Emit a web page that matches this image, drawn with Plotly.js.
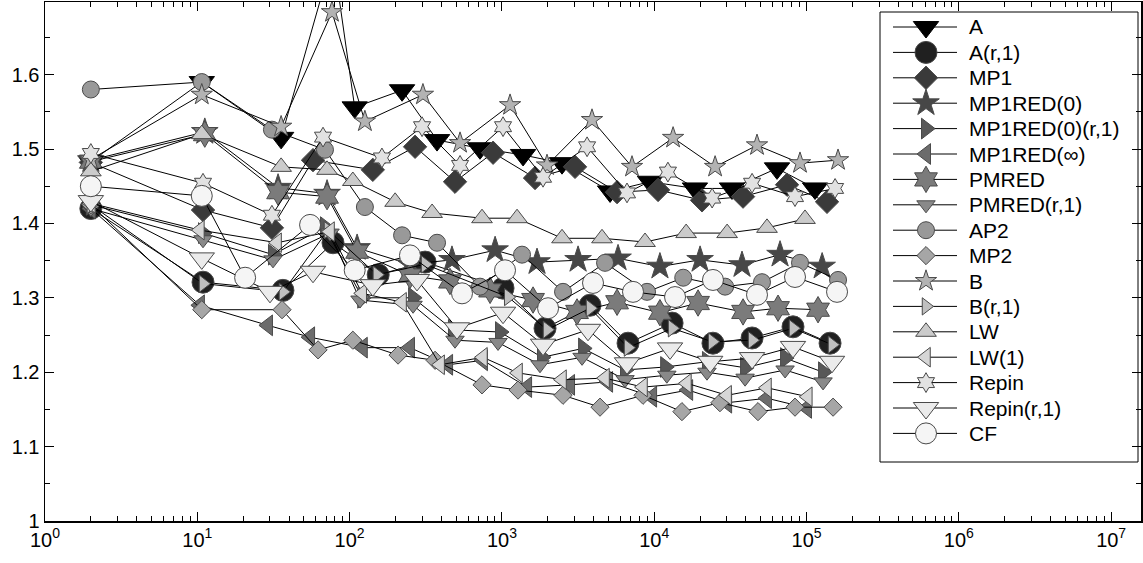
<!DOCTYPE html>
<html>
<head>
<meta charset="utf-8">
<script src="https://cdn.plot.ly/plotly-3.0.1.min.js"></script>
<style>html,body{margin:0;padding:0;background:#fff}#chart{width:1143px;height:563px}</style>
</head>
<body>
<div id="chart"></div>
<script>
// ---- data ----
const seriesNames = ['A','A(r,1)','MP1','MP1RED(0)','MP1RED(0)(r,1)','MP1RED(\u221E)','PMRED','PMRED(r,1)','AP2','MP2','B','B(r,1)','LW','LW(1)','Repin','Repin(r,1)','CF'];

const xA   = [2, 10.7, 35.5, 77.8, 108, 221, 375, 718, 1377, 2481, 5129, 9380, 18500, 32400, 64000, 113700];
const yA   = [1.483, 1.59, 1.515, 1.76, 1.556, 1.579, 1.512, 1.501, 1.492, 1.481, 1.443, 1.456, 1.447, 1.447, 1.474, 1.447];

const xAr1 = [2, 10.9, 36.5, 77.8, 154, 313, 1017, 1919, 3788, 6730, 13100, 24300, 43900, 81500, 142700];
const yAr1 = [1.42, 1.321, 1.31, 1.374, 1.331, 1.348, 1.313, 1.259, 1.29, 1.239, 1.266, 1.239, 1.246, 1.261, 1.239];

const xMP1 = [2, 10.9, 30.9, 57.5, 142, 269, 492, 875, 1650, 3020, 5702, 10600, 20600, 38300, 74500, 136300];
const yMP1 = [1.482, 1.418, 1.394, 1.485, 1.472, 1.503, 1.456, 1.495, 1.461, 1.476, 1.442, 1.445, 1.431, 1.436, 1.452, 1.429];

const xMP1RED0 = [2, 11.2, 33.9, 71.1, 112, 249, 470, 902, 1700, 3162, 5786, 10900, 20000, 37700, 67000, 126600];
const yMP1RED0 = [1.485, 1.523, 1.448, 1.44, 1.367, 1.345, 1.351, 1.364, 1.348, 1.351, 1.353, 1.342, 1.351, 1.344, 1.358, 1.342];

const xMP1RED0r1 = [2, 10.9, 31.4, 68.9, 121, 261, 477, 972, 1833, 3412, 6430, 11800, 22200, 39500, 72300, 128400];
const yMP1RED0r1 = [1.425, 1.387, 1.358, 1.395, 1.3, 1.3, 1.257, 1.254, 1.22, 1.232, 1.203, 1.207, 1.214, 1.206, 1.219, 1.2];

const xMP1REDinf = [2, 10.4, 29.1, 55.0, 122, 249, 443, 751, 1463, 2800, 4977, 9680, 16700, 30100, 55000, 100700];
const yMP1REDinf = [1.42, 1.29, 1.263, 1.247, 1.233, 1.233, 1.21, 1.216, 1.18, 1.183, 1.187, 1.167, 1.176, 1.159, 1.165, 1.152];

const xPMRED = [2, 11.2, 33.9, 71.1, 112, 249, 456, 836, 1601, 3113, 5702, 10900, 19400, 38300, 65000, 119000];
const yPMRED = [1.483, 1.52, 1.442, 1.436, 1.362, 1.33, 1.322, 1.31, 1.297, 1.281, 1.294, 1.28, 1.293, 1.281, 1.286, 1.284];

const xPMREDr1 = [2, 10.9, 31.4, 74.4, 117, 261, 492, 943, 1778, 3358, 6430, 12100, 22200, 39500, 72300, 128400];
const yPMREDr1 = [1.42, 1.378, 1.351, 1.387, 1.297, 1.29, 1.243, 1.24, 1.21, 1.22, 1.19, 1.196, 1.2, 1.192, 1.203, 1.187];

const xAP2 = [2, 10.7, 30.9, 68.9, 126, 221, 375, 718, 1355, 2519, 4754, 8970, 15500, 29200, 51000, 90600, 161000];
const yAP2 = [1.58, 1.59, 1.526, 1.499, 1.422, 1.384, 1.374, 1.315, 1.358, 1.308, 1.347, 1.308, 1.327, 1.315, 1.321, 1.347, 1.324];

const xMP2 = [2, 10.7, 36.0, 62.1, 105, 208, 364, 740, 1276, 2519, 4406, 8443, 15200, 27000, 48000, 84000, 149400];
const yMP2 = [1.425, 1.284, 1.284, 1.23, 1.243, 1.223, 1.216, 1.183, 1.176, 1.169, 1.153, 1.169, 1.147, 1.159, 1.147, 1.153, 1.153];

const xB = [2, 10.7, 35.5, 76.6, 126, 303, 531, 1131, 1977, 3904, 7147, 13300, 25100, 47300, 90600, 161000];
const yB = [1.486, 1.573, 1.53, 1.684, 1.537, 1.573, 1.508, 1.559, 1.478, 1.539, 1.476, 1.515, 1.476, 1.505, 1.481, 1.485];

const xBr1 = [2, 10.9, 36.5, 72.1, 151, 313, 1100, 1977, 3788, 6730, 13100, 24000, 43900, 81500, 147000];
const yBr1 = [1.425, 1.319, 1.308, 1.391, 1.331, 1.345, 1.301, 1.257, 1.286, 1.233, 1.259, 1.241, 1.243, 1.259, 1.237];

const xLW = [2, 10.7, 35.5, 71.1, 105, 199, 348, 740, 1257, 2481, 4541, 8701, 16200, 30100, 55000, 97700];
const yLW = [1.47, 1.52, 1.476, 1.472, 1.457, 1.429, 1.414, 1.407, 1.407, 1.38, 1.38, 1.375, 1.387, 1.387, 1.394, 1.406];

const xLW1 = [2, 10.4, 33.4, 74.4, 121, 221, 393, 751, 1276, 2481, 4754, 8443, 16400, 30100, 55000, 102000];
const yLW1 = [1.427, 1.391, 1.374, 1.389, 1.306, 1.294, 1.21, 1.22, 1.199, 1.19, 1.192, 1.18, 1.185, 1.169, 1.179, 1.167];

const xRepin = [2, 10.9, 30.9, 66.9, 163, 299, 531, 1017, 1862, 3624, 6626, 12300, 24000, 43900, 84000, 154000];
const yRepin = [1.494, 1.454, 1.411, 1.516, 1.488, 1.53, 1.478, 1.53, 1.462, 1.503, 1.441, 1.469, 1.434, 1.454, 1.436, 1.447];

const xRepinr1 = [2, 10.7, 30.0, 57.5, 142, 277, 507, 1017, 1862, 3675, 6626, 12700, 23300, 43900, 81500, 147000];
const yRepinr1 = [1.43, 1.353, 1.308, 1.335, 1.317, 1.324, 1.259, 1.28, 1.237, 1.257, 1.212, 1.232, 1.214, 1.219, 1.234, 1.214];

const xCF = [2, 10.7, 20.6, 55.0, 108, 249, 547, 1048, 2009, 3963, 7255, 13700, 24300, 47300, 84000, 158600];
const yCF = [1.45, 1.437, 1.327, 1.398, 1.337, 1.357, 1.306, 1.337, 1.286, 1.32, 1.308, 1.301, 1.324, 1.304, 1.328, 1.308];

const xTickVals = [1, 10, 100, 1000, 1e4, 1e5, 1e6, 1e7];
const xTickText = ['10<sup>0</sup>','10<sup>1</sup>','10<sup>2</sup>','10<sup>3</sup>','10<sup>4</sup>','10<sup>5</sup>','10<sup>6</sup>','10<sup>7</sup>'];
const yTickVals = [1, 1.1, 1.2, 1.3, 1.4, 1.5, 1.6];
const yTickText = ['1', '1.1', '1.2', '1.3', '1.4', '1.5', '1.6'];

// ---- styling ----
const xs = [xA, xAr1, xMP1, xMP1RED0, xMP1RED0r1, xMP1REDinf, xPMRED, xPMREDr1, xAP2, xMP2, xB, xBr1, xLW, xLW1, xRepin, xRepinr1, xCF];
const ys = [yA, yAr1, yMP1, yMP1RED0, yMP1RED0r1, yMP1REDinf, yPMRED, yPMREDr1, yAP2, yMP2, yB, yBr1, yLW, yLW1, yRepin, yRepinr1, yCF];
const symbols = ['triangle-down','circle','diamond','star','triangle-right','triangle-left','hexagram','triangle-down','circle','diamond','star','triangle-right','triangle-up','triangle-left','hexagram','triangle-down','circle'];
const sizes   = [22, 22, 18, 20, 18, 18, 20, 16, 17, 14, 16, 15, 18, 17, 15, 22, 21];
const fills   = ['#000000','#202020','#3a3a3a','#474747','#585858','#6c6c6c','#7b7b7b','#898989','#999999','#a6a6a6','#b3b3b3','#bfbfbf','#cbcbcb','#d6d6d6','#e2e2e2','#ebebeb','#f5f5f5'];
const edge = i => (i === 0 ? '#000' : '#4a4a4a');

const traces = seriesNames.map((n, i) => ({
  type: 'scatter', mode: 'lines+markers', name: n, showlegend: false,
  x: xs[i], y: ys[i],
  line: {color: '#000', width: 1},
  marker: {symbol: symbols[i], size: sizes[i], color: fills[i], line: {color: edge(i), width: 1}}
}));

// ---- axis geometry ----
const W = 1143, H = 563, mL = 45, mR = 2, mT = 2, mB = 42;
const xRange = [0, 7.196], yRange = [1, 1.6976];
const pw = W - mL - mR, ph = H - mT - mB;
const px = v => (v - mL) / pw;          // pixel -> paper x
const py = v => (H - mB - v) / ph;      // pixel -> paper y
const dataX = v => Math.pow(10, xRange[0] + px(v) * (xRange[1] - xRange[0]));
const dataY = v => yRange[0] + py(v) * (yRange[1] - yRange[0]);

// ---- legend box (MATLAB-style) ----
const LEG = {left: 880, right: 1138, top: 12, bottom: 462, row0: 27, rowStep: 25.4, lineL: 893, lineR: 957, mark: 926, text: 967};
const rowY = i => LEG.row0 + LEG.rowStep * i;

const shapes = [{type: 'rect', xref: 'paper', yref: 'paper', x0: px(LEG.left), x1: px(LEG.right), y0: py(LEG.bottom), y1: py(LEG.top),
                 line: {color: '#000', width: 1}, fillcolor: 'rgba(255,255,255,0)', layer: 'above'}];
const annotations = [];
seriesNames.forEach((n, i) => {
  annotations.push({xref: 'paper', yref: 'paper', x: px(LEG.text), y: py(rowY(i)), xanchor: 'left', yanchor: 'middle',
                    text: n, showarrow: false, font: {family: 'Liberation Sans, Arial, sans-serif', size: 21, color: '#000'}});
  traces.push({
    type: 'scatter', mode: 'lines', showlegend: false, hoverinfo: 'skip', cliponaxis: false,
    x: [dataX(LEG.lineL), dataX(LEG.lineR)], y: [dataY(rowY(i)), dataY(rowY(i))],
    line: {color: '#000', width: 1}
  });
  traces.push({
    type: 'scatter', mode: 'markers', showlegend: false, hoverinfo: 'skip', cliponaxis: false,
    x: [dataX(LEG.mark)], y: [dataY(rowY(i))],
    marker: {symbol: symbols[i], size: sizes[i], color: fills[i], opacity: 1, line: {color: edge(i), width: 1}}
  });
});

const minorX = [];
for (let e = 0; e < 7; e++) for (let k = 2; k <= 9; k++) minorX.push(k * Math.pow(10, e));
const minorY = [];
for (let v = 1.05; v < 1.7; v += 0.1) minorY.push(+v.toFixed(2));

const font = {family: 'Liberation Sans, Arial, sans-serif', size: 20, color: '#000'};

const layout = {
  width: W, height: H,
  margin: {l: mL, r: mR, t: mT, b: mB},
  paper_bgcolor: '#fff', plot_bgcolor: '#fff',
  font: font,
  showlegend: false,
  shapes: shapes,
  annotations: annotations,
  xaxis: {
    type: 'log', range: xRange,
    tickmode: 'array', tickvals: xTickVals, ticktext: xTickText,
    ticks: 'inside', ticklen: 9, tickwidth: 1, tickcolor: '#000',
    minor: {tickmode: 'array', tickvals: minorX, ticks: 'inside', ticklen: 5, tickwidth: 1, tickcolor: '#000'},
    showline: true, linecolor: '#000', linewidth: 1.5, mirror: 'ticks',
    showgrid: false, zeroline: false, tickfont: font
  },
  yaxis: {
    range: yRange,
    tickmode: 'array', tickvals: yTickVals, ticktext: yTickText,
    ticks: 'inside', ticklen: 9, tickwidth: 1, tickcolor: '#000',
    minor: {tickmode: 'array', tickvals: minorY, ticks: 'inside', ticklen: 5, tickwidth: 1, tickcolor: '#000'},
    showline: true, linecolor: '#000', linewidth: 1.5, mirror: 'ticks',
    showgrid: false, zeroline: false, tickfont: font
  }
};

Plotly.newPlot('chart', traces, layout, {displayModeBar: false, staticPlot: true});
</script>
</body>
</html>
